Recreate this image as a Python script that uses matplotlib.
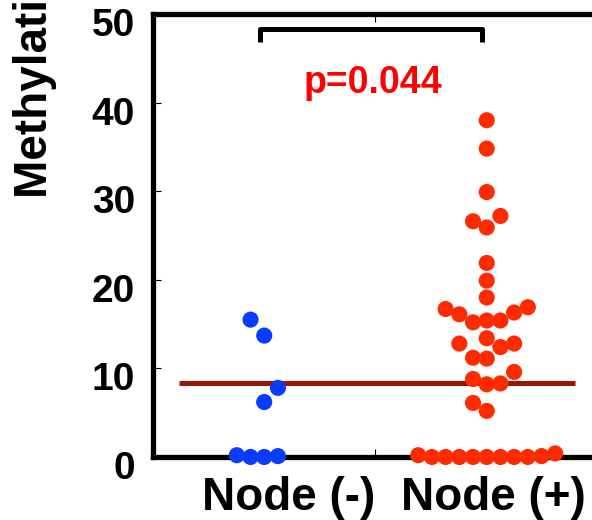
import numpy as np
import matplotlib
matplotlib.use('Agg')
import matplotlib.pyplot as plt
from matplotlib.transforms import ScaledTranslation

plt.rcParams['font.family'] = ['Liberation Sans', 'DejaVu Sans']
plt.rcParams['font.weight'] = 'bold'

# values
groups = ['Node (-)', 'Node (+)']
node_neg = [15.5, 13.7, 7.8, 6.2, 0.2, 0.0, 0.0, 0.1]
node_pos = [38.0, 34.8, 29.9, 27.2, 26.6, 25.9, 21.9, 19.9, 18.0,
            16.9, 16.7, 16.3, 16.1, 15.4, 15.4, 15.2, 13.4, 12.8, 12.8, 12.4,
            11.2, 11.1, 9.6, 8.8, 8.3, 8.2, 6.1, 5.2,
            0.4, 0.2, 0.1, 0.0, 0.0, 0.0, 0.0, 0.0, 0.0, 0.0, 0.0]
cutoff = 8.3
p_text = 'p=0.044'
yticks = [0, 10, 20, 30, 40, 50]

fig = plt.figure(figsize=(5.92, 5.2), dpi=100)
ax = fig.add_axes([0.2584, 0.1212, 0.7517, 0.852])
ax.set_xlim(0.5, 2.5)
ax.set_ylim(0, 50)


def swarm_slots(vals, xc, step, same_px=16, min_px=13.5):
    # place points column by column, bottom up, in px space
    vals = np.asarray(vals, float)
    placed = []
    slots = np.zeros(len(vals), int)
    for i in np.argsort(vals, kind='stable'):
        yp = ax.transData.transform((xc, vals[i]))[1]
        nneg = sum(1 for s, _ in placed if s < 0)
        npos = sum(1 for s, _ in placed if s > 0)
        k = 0
        found = None
        while found is None:
            cands = [0] if k == 0 else ([-k, k] if nneg <= npos else [k, -k])
            for c in cands:
                ok = True
                for s, yy in placed:
                    if s == c and abs(yp - yy) < same_px:
                        ok = False
                    elif s != c and np.hypot((c - s) * step, yp - yy) < min_px:
                        ok = False
                if ok:
                    found = c
                    break
            k += 1
        slots[i] = found
        placed.append((found, yp))
    return slots


px_per_x = ax.transData.transform((1, 0))[0] - ax.transData.transform((0, 0))[0]
step_px = 13.7
dx = step_px / px_per_x

for xc, vals, col in [(1, node_neg, '#0a3cff'), (2, node_pos, '#ff2a00')]:
    sl = swarm_slots(vals, xc, step_px)
    ax.scatter(xc + sl * dx, vals, s=135, color=col, edgecolors='none',
               zorder=4, clip_on=False)

ax.hlines(cutoff, 0.615, 2.395, color='#9b1500', linewidth=3.6, zorder=3)

# bracket + p value
ax.plot([0.98, 0.98, 1.98, 1.98], [46.8, 48.3, 48.3, 46.8], color='black',
        linewidth=3.6, solid_joinstyle='round', solid_capstyle='butt', clip_on=False)
ax.text(1.49, 41.1, p_text, color='#ff0000', fontsize=27, fontweight='bold',
        ha='center', va='baseline')

for side in ['left', 'bottom', 'top']:
    ax.spines[side].set_linewidth(3.8)
ax.spines['right'].set_visible(False)

ax.set_yticks(yticks)
ax.set_yticklabels([str(t) for t in yticks], fontsize=28, fontweight='bold')
ax.set_xticks([1.5])
ax.set_xticklabels([''])
ax.tick_params(axis='both', direction='in', length=6, width=0.8, color='black')
ax.tick_params(axis='y', pad=13)
ax.tick_params(axis='x', top=True)
off = ScaledTranslation(0, -8 / 100, fig.dpi_scale_trans)
for lab in ax.get_yticklabels():
    lab.set_transform(lab.get_transform() + off)

ax.text(1.11, -2.2, groups[0], fontsize=33, fontweight='bold', ha='center', va='top')
ax.text(2.03, -2.2, groups[1], fontsize=33, fontweight='bold', ha='center', va='top')

fig.text(13 / 592, 322 / 520, 'Methylation (%)', rotation=90, ha='left', va='bottom',
         fontsize=33, fontweight='bold')

fig.savefig('out.png', dpi=100)
